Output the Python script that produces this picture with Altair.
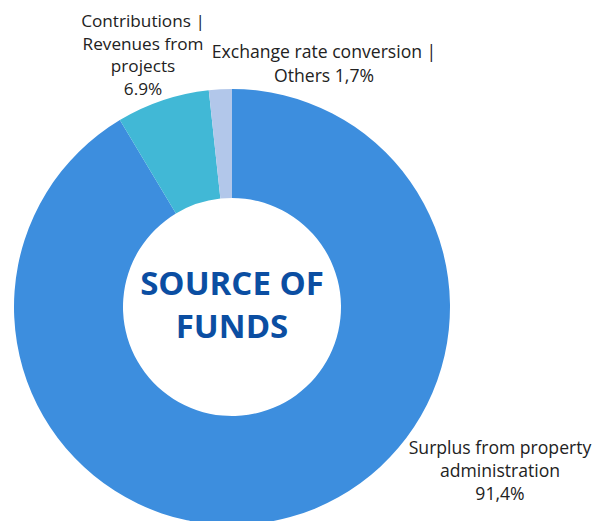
import altair as alt
import pandas as pd

categories = ["Surplus from property administration", "Contributions | Revenues from projects", "Exchange rate conversion | Others"]
values = [91.4, 6.9, 1.7]
order = [1, 2, 3]
colors = ["#3D8EDE", "#41B8D6", "#B2C7EA"]

df = pd.DataFrame({"category": categories, "value": values, "order": order})

FONT = "Open Sans"
CX, CY = 224, 299

donut = alt.Chart(df).mark_arc(outerRadius=218, innerRadius=109, strokeWidth=0).encode(
    theta=alt.Theta("value:Q", stack=True),
    order=alt.Order("order:Q"),
    color=alt.Color("category:N", scale=alt.Scale(domain=categories, range=colors), legend=None),
    x=alt.value(CX),
    y=alt.value(CY),
)

def label(lines, x, y, size=17.6, color="#222222", weight="normal", lh=23):
    return alt.Chart(pd.DataFrame({"t": ["\n".join(lines)]})).mark_text(
        font=FONT, fontSize=size, color=color, fontWeight=weight, align="center",
        baseline="top", lineBreak="\n", lineHeight=lh
    ).encode(text="t:N", x=alt.value(x), y=alt.value(y))

l1 = label(["Contributions |", "Revenues from", "projects", "6.9%"], 135, 5, size=17.2, lh=22.5)
l2 = label(["Exchange rate conversion |", "Others 1,7%"], 316, 36, lh=24)
l3 = label(["Surplus from property", "administration", "91,4%"], 492, 432)
title = label(["SOURCE OF", "FUNDS"], CX, 261, size=33, color="#0B4EA2", weight="bold", lh=43)

chart = alt.layer(donut, l1, l2, l3, title).properties(
    width=590, height=513, autosize=alt.AutoSizeParams(type="none"), padding=0
).configure_view(strokeWidth=0)

chart.save("out.html", embed_options={"renderer": "svg", "actions": False})
